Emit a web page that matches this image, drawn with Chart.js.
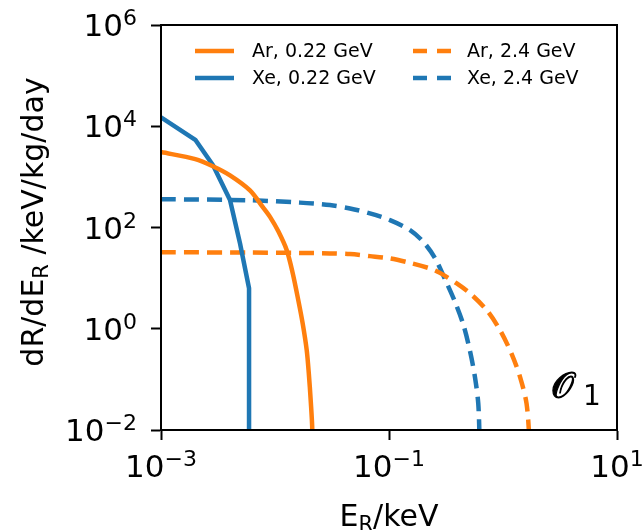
<!DOCTYPE html>
<html>
<head>
<meta charset="utf-8">
<script src="https://cdn.jsdelivr.net/npm/chart.js@4"></script>
<style>
  html, body { margin: 0; padding: 0; background: #fff; }
</style>
</head>
<body>
<canvas id="c" width="642" height="530"></canvas>
<script>
// Recoil energy grid (keV) and differential rates (events/keV/kg/day) for each target/mass pair
const xeLightE    = [0.001, 0.0020, 0.00286, 0.00403, 0.00493, 0.00592, 0.00592];
const xeLightRate = [15000, 5400, 1700, 350, 49, 6.3, 0.0001];

const arLightE    = [0.001, 0.0020, 0.00285, 0.00403, 0.00603, 0.00785, 0.00904, 0.01072, 0.01268, 0.01429, 0.0160, 0.0175, 0.01897, 0.01982, 0.02056, 0.02123, 0.0214];
const arLightRate = [3100, 2240, 1620, 1070, 540, 250, 162, 83, 35.5, 12.6, 3.67, 1.26, 0.38, 0.126, 0.039, 0.01, 0.0001];

const xeHeavyE    = [0.001, 0.006, 0.0165, 0.0303, 0.0455, 0.068, 0.102, 0.153, 0.200, 0.253, 0.310, 0.379, 0.449, 0.514, 0.568, 0.607, 0.625];
const xeHeavyRate = [363, 345, 310, 277, 238, 190, 140, 89, 52, 25, 9.5, 3.4, 1.2, 0.36, 0.11, 0.033, 0.005];

const arHeavyE    = [0.001, 0.006, 0.0165, 0.0303, 0.0455, 0.068, 0.102, 0.153, 0.229, 0.28, 0.393, 0.514, 0.72, 0.942, 1.19, 1.41, 1.61, 1.72];
const arHeavyRate = [32.5, 32, 31.5, 30.8, 29.8, 27.2, 24.5, 20.0, 15.5, 12.7, 7.85, 4.99, 2.33, 0.94, 0.32, 0.112, 0.033, 0.005];

// Axis decades that carry a labelled tick
const xTickExps = [-3, -1, 1];
const yTickExps = [-2, 0, 2, 4, 6];

const seriesLabels = ['Ar, 0.22 GeV', 'Xe, 0.22 GeV', 'Ar, 2.4 GeV', 'Xe, 2.4 GeV'];
const operatorName = '\u{1D4AA}';   // script O
const operatorIndex = '1';

const ORANGE = '#ff7f0e';
const BLUE = '#1f77b4';
const FONT = "'DejaVu Sans', sans-serif";
const LINE_W = 4.5;
const DASH = [15, 8];

function pts(xs, ys) { return xs.map((x, i) => ({ x: x, y: ys[i] })); }

const datasets = [
  { label: seriesLabels[0], data: pts(arLightE, arLightRate), borderColor: ORANGE, borderDash: [], tension: 0.3 },
  { label: seriesLabels[1], data: pts(xeLightE, xeLightRate), borderColor: BLUE, borderDash: [], tension: 0 },
  { label: seriesLabels[2], data: pts(arHeavyE, arHeavyRate), borderColor: ORANGE, borderDash: DASH, tension: 0.3 },
  { label: seriesLabels[3], data: pts(xeHeavyE, xeHeavyRate), borderColor: BLUE, borderDash: DASH, tension: 0.3 }
].map(d => Object.assign({ borderWidth: LINE_W, pointRadius: 0, fill: false, clip: 0, borderCapStyle: 'butt', borderJoinStyle: 'round' }, d));

// "10" with a raised exponent, as on the log axes
function drawPower(ctx, exp, x, baseline, align) {
  const base = '10';
  const sup = exp < 0 ? '\u2212' + Math.abs(exp) : String(exp);
  ctx.font = '31px ' + FONT;
  const w1 = ctx.measureText(base).width;
  ctx.font = '22px ' + FONT;
  const w2 = ctx.measureText(sup).width;
  const total = w1 + w2;
  const start = align === 'center' ? x - total / 2 : x - total;
  ctx.textAlign = 'left';
  ctx.textBaseline = 'alphabetic';
  ctx.font = '31px ' + FONT;
  ctx.fillText(base, start, baseline);
  ctx.font = '22px ' + FONT;
  ctx.fillText(sup, start + w1, baseline - 11);
}

const decorations = {
  id: 'decorations',
  afterDraw(chart) {
    const ctx = chart.ctx;
    const a = chart.chartArea;
    const xs = chart.scales.x, ys = chart.scales.y;
    ctx.save();
    ctx.fillStyle = '#000';

    // full frame around the plot
    ctx.strokeStyle = '#000';
    ctx.lineWidth = 2;
    ctx.strokeRect(a.left, a.top, a.right - a.left, a.bottom - a.top);

    // tick labels
    xTickExps.forEach(e => drawPower(ctx, e, xs.getPixelForValue(Math.pow(10, e)), a.bottom + 47, 'center'));
    yTickExps.forEach(e => drawPower(ctx, e, a.left - 24, ys.getPixelForValue(Math.pow(10, e)) + 11, 'right'));

    // x title: E_R/keV
    ctx.textBaseline = 'alphabetic';
    ctx.textAlign = 'left';
    ctx.font = '30px ' + FONT;
    const wE = ctx.measureText('E').width;
    const wRest = ctx.measureText('/keV').width;
    ctx.font = '21px ' + FONT;
    const wR = ctx.measureText('R').width;
    const sx = (a.left + a.right) / 2 - (wE + wR + wRest) / 2;
    const by = 526;
    ctx.font = '30px ' + FONT;
    ctx.fillText('E', sx, by);
    ctx.font = '21px ' + FONT;
    ctx.fillText('R', sx + wE, by + 5);
    ctx.font = '30px ' + FONT;
    ctx.fillText('/keV', sx + wE + wR, by);

    // y title: dR/dE_R /keV/kg/day, rotated
    ctx.save();
    ctx.translate(43, 222);
    ctx.rotate(-Math.PI / 2);
    ctx.font = '30px ' + FONT;
    const p1 = 'dR/dE', p2 = ' /keV/kg/day';
    const w1 = ctx.measureText(p1).width, w3 = ctx.measureText(p2).width;
    ctx.font = '21px ' + FONT;
    const w2 = ctx.measureText('R').width;
    const tx = -(w1 + w2 + w3) / 2;
    ctx.font = '30px ' + FONT;
    ctx.fillText(p1, tx, 0);
    ctx.font = '21px ' + FONT;
    ctx.fillText('R', tx + w1, 5);
    ctx.font = '30px ' + FONT;
    ctx.fillText(p2, tx + w1 + w2, 0);
    ctx.restore();

    // legend in two columns
    const cols = [{ lx: 195, tx: 252 }, { lx: 413, tx: 467 }];
    const rows = [51, 78];
    chart.data.datasets.forEach((ds, i) => {
      const col = cols[Math.floor(i / 2)];
      const ry = rows[i % 2];
      ctx.save();
      ctx.strokeStyle = ds.borderColor;
      ctx.lineWidth = LINE_W;
      ctx.lineCap = 'butt';
      ctx.setLineDash(ds.borderDash && ds.borderDash.length ? [14, 10] : []);
      ctx.beginPath();
      ctx.moveTo(col.lx, ry);
      ctx.lineTo(col.lx + 39, ry);
      ctx.stroke();
      ctx.restore();
      ctx.font = '19px ' + FONT;
      ctx.fillStyle = '#000';
      ctx.textAlign = 'left';
      ctx.fillText(ds.label, col.tx, ry + 6);
    });

    // operator tag in the lower right corner
    ctx.font = '36px ' + FONT;
    ctx.lineWidth = 1.2;
    ctx.strokeStyle = '#000';
    ctx.fillText(operatorName, 551, 398);
    ctx.strokeText(operatorName, 551, 398);
    ctx.font = '28px ' + FONT;
    ctx.fillText(operatorIndex, 583, 405);

    ctx.restore();
  }
};

function fixedTicks(exps) {
  return scale => { scale.ticks = exps.map(e => ({ value: Math.pow(10, e) })); };
}

const axisCommon = {
  type: 'logarithmic',
  ticks: { display: false },
  grid: { display: true, drawOnChartArea: false, drawTicks: true, tickLength: 10, tickColor: '#000', tickWidth: 2 },
  border: { display: true, color: '#000', width: 2 }
};

new Chart(document.getElementById('c'), {
  type: 'line',
  data: { datasets: datasets },
  options: {
    responsive: false,
    animation: false,
    devicePixelRatio: 1,
    layout: { padding: { left: 151, right: 25, top: 25, bottom: 90 } },
    plugins: { legend: { display: false }, tooltip: { enabled: false } },
    scales: {
      x: Object.assign({}, axisCommon, { min: 1e-3, max: 10, afterBuildTicks: fixedTicks(xTickExps) }),
      y: Object.assign({}, axisCommon, { min: 1e-2, max: 1e6, afterBuildTicks: fixedTicks(yTickExps) })
    }
  },
  plugins: [decorations]
});
</script>
</body>
</html>
